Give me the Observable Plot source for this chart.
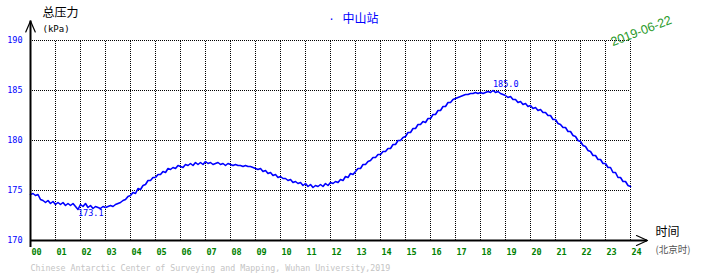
<!DOCTYPE html>
<html><head><meta charset="utf-8">
<script src="https://cdn.jsdelivr.net/npm/d3@7"></script>
<script src="https://cdn.jsdelivr.net/npm/@observablehq/plot@0.6"></script>
<style>html,body{margin:0;padding:0;background:#fff} svg{display:block}</style>
</head><body><div id="chart"></div>
<script>
const station = "中山站";
const dateLabel = "2019-06-22";
const yTitle = "总压力";
const yUnit = "(kPa)";
const xTitle = "时间";
const xUnit = "(北京时)";
const credit = "Chinese Antarctic Center of Surveying and Mapping, Wuhan University,2019";
const hourTicks = [0,1,2,3,4,5,6,7,8,9,10,11,12,13,14,15,16,17,18,19,20,21,22,23,24];
const hourLabels = ["00","01","02","03","04","05","06","07","08","09","10","11","12","13","14","15","16","17","18","19","20","21","22","23","24"];
const pressureTicks = [170,175,180,185,190];
const sampleStepHours = 0.1;
const pressure = [
 174.6,174.7,174.5,174.6,174.1,174.0,173.8,174.0,173.7,173.9,
 173.6,173.8,173.6,173.8,173.5,173.7,173.5,173.7,173.4,173.1,
 173.6,173.4,173.7,173.3,173.5,173.2,173.4,173.3,173.2,173.4,
 173.3,173.4,173.5,173.4,173.6,173.7,173.8,174.0,174.1,174.4,
 174.5,174.8,174.7,175.2,175.1,175.5,175.6,176.0,176.0,176.3,
 176.3,176.6,176.6,176.9,176.8,177.2,177.1,177.3,177.2,177.5,
 177.4,177.3,177.6,177.5,177.7,177.5,177.8,177.6,177.8,177.6,
 177.9,177.7,177.8,177.6,177.7,177.8,177.6,177.7,177.5,177.7,
 177.6,177.5,177.6,177.5,177.5,177.4,177.5,177.4,177.4,177.3,
 177.2,177.1,177.2,176.9,177.0,176.7,176.8,176.5,176.6,176.3,
 176.4,176.2,176.2,176.0,176.1,175.8,175.9,175.7,175.8,175.5,
 175.7,175.4,175.6,175.3,175.5,175.4,175.6,175.4,175.7,175.5,
 175.8,175.7,175.9,175.8,176.1,176.0,176.4,176.3,176.7,176.6,
 176.9,177.2,177.2,177.6,177.6,177.9,178.0,178.3,178.3,178.6,
 178.6,178.9,178.9,179.2,179.2,179.6,179.6,180.0,180.0,180.3,
 180.4,180.8,180.8,181.2,181.2,181.6,181.6,181.9,181.8,182.2,
 182.2,182.6,182.6,183.0,183.0,183.4,183.4,183.8,183.8,184.1,
 184.2,184.3,184.4,184.5,184.6,184.6,184.7,184.7,184.8,184.7,
 184.8,184.7,184.8,184.9,184.8,185.0,184.8,184.9,184.7,184.6,
 184.5,184.3,184.4,184.1,184.1,183.8,183.9,183.6,183.7,183.4,
 183.5,183.2,183.3,183.0,183.1,182.8,182.8,182.5,182.5,182.1,
 182.1,181.7,181.6,181.3,181.3,180.9,180.9,180.5,180.4,180.0,
 179.9,179.5,179.4,179.0,178.9,178.5,178.5,178.1,178.1,177.7,
 177.7,177.3,177.3,176.8,176.8,176.3,176.3,175.9,175.9,175.5,
 175.4
];

const data = pressure.map((v, i) => ({hour: +(i * sampleStepHours).toFixed(2), kPa: v}));
const minPt = data.reduce((a, b) => (b.kPa < a.kPa ? b : a));
const maxPt = data.reduce((a, b) => (b.kPa > a.kPa ? b : a));

const x0 = hourTicks[0], x1 = hourTicks[hourTicks.length - 1];
const y0 = pressureTicks[0], y1 = pressureTicks[pressureTicks.length - 1];
const mono = "DejaVu Sans Mono, monospace";
const cjk = "Noto Sans CJK SC, sans-serif";

const yArrow = [{x: x0 - 0.19, y: y1 + 0.85}, {x: x0, y: y1 + 1.95}, {x: x0 + 0.19, y: y1 + 0.85}];
const xArrow = [{x: x1 + 0.24, y: y0 + 0.5}, {x: x1 + 0.68, y: y0}, {x: x1 + 0.24, y: y0 - 0.5}];

const chart = Plot.plot({
  width: 710, height: 278,
  marginLeft: 30, marginRight: 80, marginTop: 40, marginBottom: 38,
  x: {domain: [x0, x1], axis: null},
  y: {domain: [y0, y1], axis: null},
  style: {background: "#fff", overflow: "visible"},
  marks: [
    Plot.ruleX(hourTicks.slice(1), {y1: y0, y2: y1, stroke: "#000", strokeWidth: 1, strokeDasharray: "1,1"}),
    Plot.ruleY(pressureTicks.slice(1), {x1: x0, x2: x1, stroke: "#000", strokeWidth: 1, strokeDasharray: "1,1"}),
    Plot.line(data, {x: "hour", y: "kPa", stroke: "#0000ff", strokeWidth: 1.6}),
    Plot.ruleY([y0], {x1: x0, x2: x1 + 0.68, stroke: "#000", strokeWidth: 2}),
    Plot.ruleX([x0], {y1: y0 - 0.7, y2: y1 + 1.95, stroke: "#000", strokeWidth: 2}),
    Plot.line(yArrow, {x: "x", y: "y", stroke: "#000", strokeWidth: 1.2}),
    Plot.line(xArrow, {x: "x", y: "y", stroke: "#000", strokeWidth: 1.2}),
    Plot.text(hourTicks, {x: d => d, y: y0, text: (d, i) => hourLabels[i], dx: 1, dy: 12, textAnchor: "start",
      fill: "#008000", fontFamily: mono, fontSize: 8.5, fontWeight: "bold"}),
    Plot.text(pressureTicks, {x: x0, y: d => d, text: d => String(d), dx: -8, textAnchor: "end",
      fill: "#0000ff", fontFamily: mono, fontSize: 8.5}),
    Plot.text([maxPt], {x: "hour", y: "kPa", text: d => d.kPa.toFixed(1), dy: -6, textAnchor: "start",
      fill: "#0000ff", fontFamily: mono, fontSize: 8.5}),
    Plot.text([minPt], {x: "hour", y: "kPa", text: d => d.kPa.toFixed(1), dy: 4, textAnchor: "start",
      fill: "#0000ff", fontFamily: mono, fontSize: 8.5}),
    Plot.text([yTitle], {frameAnchor: "top-left", dx: 12, dy: -32, textAnchor: "start", fill: "#000", fontFamily: cjk, fontSize: 12}),
    Plot.text([yUnit], {frameAnchor: "top-left", dx: 12, dy: -15, textAnchor: "start", fill: "#000", fontFamily: mono, fontSize: 9}),
    Plot.text(["·"], {frameAnchor: "top-left", dx: 301, dy: -25, textAnchor: "middle", fill: "#0000ff", fontFamily: mono, fontSize: 10}),
    Plot.text([station], {frameAnchor: "top-left", dx: 312, dy: -26, textAnchor: "start", fill: "#0000ff", fontFamily: cjk, fontSize: 12}),
    Plot.text([dateLabel], {frameAnchor: "top-left", dx: 609, dy: -14, textAnchor: "middle", rotate: -21,
      fill: "#2a9a2a", fontFamily: "Liberation Sans, Arial, sans-serif", fontSize: 12.5}),
    Plot.text([xTitle], {frameAnchor: "bottom-left", dx: 625, dy: -5, textAnchor: "start", fill: "#000", fontFamily: cjk, fontSize: 12}),
    Plot.text([xUnit], {frameAnchor: "bottom-left", dx: 625, dy: 12, textAnchor: "start", fill: "#555", fontFamily: cjk, fontSize: 9.5}),
    Plot.text([credit], {frameAnchor: "bottom-left", dx: 0, dy: 30, textAnchor: "start", fill: "#c4c4c4", fontFamily: mono, fontSize: 8.3})
  ]
});
document.getElementById("chart").appendChild(chart);
</script>
</body></html>
